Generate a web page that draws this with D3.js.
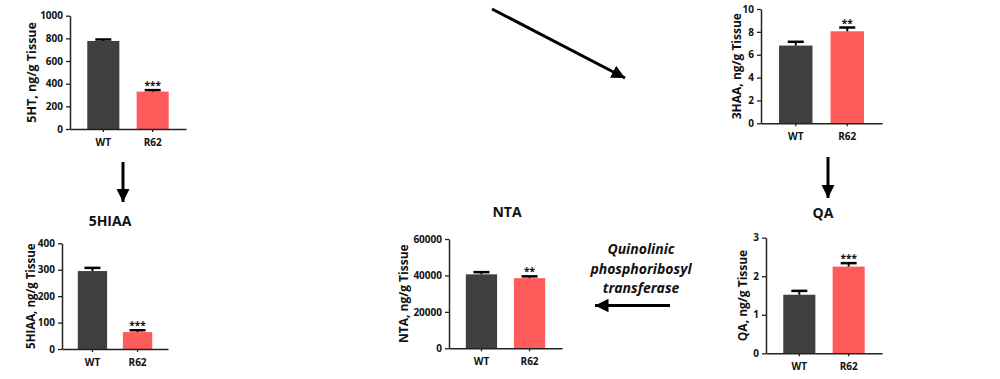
<!DOCTYPE html>
<html>
<head>
<meta charset="utf-8">
<script src="https://cdn.jsdelivr.net/npm/d3@7"></script>
<style>
  body { margin: 0; background: #fff; }
  svg { display: block; }
  text { font-family: "Open Sans", "Liberation Sans", sans-serif; font-weight: bold; fill: #111; }
</style>
</head>
<body>
<div id="chart"></div>
<script>
// groups shared by all panels
let groups = ["WT", "R62"]
let barColors = ["#404040", "#ff5b5b"]

// 5HT
let ht5Means = [777, 330]
let ht5Errors = [13, 13]
let ht5Ticks = [0, 200, 400, 600, 800, 1000]
let ht5Stars = ["", "***"]

// 5HIAA
let hiaaMeans = [295, 64]
let hiaaErrors = [12, 7]
let hiaaTicks = [0, 100, 200, 300, 400]
let hiaaStars = ["", "***"]

// NTA
let ntaMeans = [40600, 38500]
let ntaErrors = [1200, 1000]
let ntaTicks = [0, 20000, 40000, 60000]
let ntaStars = ["", "**"]

// 3HAA
let haa3Means = [6.8, 8.05]
let haa3Errors = [0.33, 0.33]
let haa3Ticks = [0, 2, 4, 6, 8, 10]
let haa3Stars = ["", "**"]

// QA
let qaMeans = [1.52, 2.25]
let qaErrors = [0.1, 0.09]
let qaTicks = [0, 1, 2, 3]
let qaStars = ["", "***"]

let svgWidth = 1000
let svgHeight = 379

let svg = d3.select('#chart')
    .append('svg')
    .attr('width', svgWidth)
    .attr('height', svgHeight)

// draws one small bar panel
function drawPanel(p) {
    let g = svg.append('g')

    let xScale = d3.scaleBand()
        .domain(groups)
        .range([p.x0, p.x1])
        .paddingInner(0.35)
        .paddingOuter(0.35)

    let yScale = d3.scaleLinear()
        .domain([0, d3.max(p.ticks)])
        .range([p.y0, p.y1])

    // bars
    g.selectAll('.bar')
        .data(groups)
        .join('rect')
        .attr('x', d => xScale(d))
        .attr('y', (d, i) => yScale(p.means[i]))
        .attr('width', xScale.bandwidth())
        .attr('height', (d, i) => yScale(0) - yScale(p.means[i]))
        .attr('fill', (d, i) => barColors[i])

    // error bars (upper only)
    groups.forEach((d, i) => {
        let cx = xScale(d) + xScale.bandwidth() / 2
        let top = yScale(p.means[i] + p.errors[i])
        g.append('line')
            .attr('x1', cx).attr('x2', cx)
            .attr('y1', yScale(p.means[i])).attr('y2', top)
            .attr('stroke', '#000').attr('stroke-width', 2)
        g.append('line')
            .attr('x1', cx - 8).attr('x2', cx + 8)
            .attr('y1', top).attr('y2', top)
            .attr('stroke', '#000').attr('stroke-width', 2.5)
        if (p.stars[i]) {
            g.append('text')
                .attr('x', cx)
                .attr('y', top - 1)
                .attr('text-anchor', 'middle')
                .style('font-size', '10px')
                .text(p.stars[i])
        }
    })

    // axes
    let yAxis = d3.axisLeft(yScale)
        .tickValues(p.ticks)
        .tickSize(4)
        .tickSizeOuter(0)
        .tickFormat(d3.format('d'))
    let xAxis = d3.axisBottom(xScale)
        .tickSize(3)
        .tickSizeOuter(0)

    let ya = g.append('g')
        .attr('transform', `translate(${p.x0},0)`)
        .call(yAxis)
    let xa = g.append('g')
        .attr('transform', `translate(0,${p.y0})`)
        .call(xAxis)

    ;[ya, xa].forEach(a => {
        a.select('.domain').attr('stroke', '#222').attr('stroke-width', 1.5)
        a.selectAll('.tick line').attr('stroke', '#222').attr('stroke-width', 1.3)
        a.selectAll('.tick text')
            .style('font-family', '"Open Sans", sans-serif')
            .style('font-weight', 'bold')
            .style('font-size', '10px')
            .attr('fill', '#111')
    })
    xa.selectAll('.tick text').attr('dy', '1.05em')

    // y title
    g.append('text')
        .attr('transform', `translate(${p.titleX},${(p.y0 + p.y1) / 2}) rotate(-90)`)
        .attr('text-anchor', 'middle')
        .attr('dy', '0.35em')
        .style('font-size', p.labelSize || '12px')
        .text(p.label)

    // panel heading
    if (p.heading) {
        g.append('text')
            .attr('x', p.headX)
            .attr('y', p.headY)
            .attr('text-anchor', 'middle')
            .style('font-size', '14px')
            .text(p.heading)
    }
}

drawPanel({means: ht5Means, errors: ht5Errors, ticks: ht5Ticks, stars: ht5Stars,
    x0: 70, x1: 186, y0: 129, y1: 15.7, titleX: 32, label: '5HT, ng/g Tissue', labelSize: '12.5px'})
drawPanel({means: hiaaMeans, errors: hiaaErrors, ticks: hiaaTicks, stars: hiaaStars,
    x0: 62, x1: 168, y0: 349, y1: 243.3, titleX: 31, label: '5HIAA, ng/g Tissue', labelSize: '11.5px',
    heading: '5HIAA', headX: 110, headY: 226})
drawPanel({means: ntaMeans, errors: ntaErrors, ticks: ntaTicks, stars: ntaStars,
    x0: 449, x1: 562, y0: 348.3, y1: 239, titleX: 404, label: 'NTA, ng/g Tissue',
    heading: 'NTA', headX: 507, headY: 217})
drawPanel({means: haa3Means, errors: haa3Errors, ticks: haa3Ticks, stars: haa3Stars,
    x0: 761, x1: 882, y0: 123.3, y1: 9, titleX: 737, label: '3HAA, ng/g Tissue'})
drawPanel({means: qaMeans, errors: qaErrors, ticks: qaTicks, stars: qaStars,
    x0: 766, x1: 882, y0: 353.3, y1: 237.7, titleX: 743, label: 'QA, ng/g Tissue',
    heading: 'QA', headX: 823, headY: 218})

// pathway arrows
svg.append('defs').append('marker')
    .attr('id', 'head')
    .attr('viewBox', '0 0 10 10')
    .attr('refX', 10).attr('refY', 5)
    .attr('markerWidth', 4.5).attr('markerHeight', 4.5)
    .attr('markerUnits', 'strokeWidth')
    .attr('orient', 'auto')
    .append('path')
    .attr('d', 'M0,0 L10,5 L0,10 z')
    .attr('fill', '#000')

function arrow(x1, y1, x2, y2) {
    svg.append('line')
        .attr('x1', x1).attr('y1', y1)
        .attr('x2', x2).attr('y2', y2)
        .attr('stroke', '#000')
        .attr('stroke-width', 3)
        .attr('marker-end', 'url(#head)')
}
arrow(123, 162, 123, 202)
arrow(828, 157, 828, 198)
arrow(492, 9, 625, 78)
arrow(670, 305.5, 595, 305.5)

// enzyme label
let enzyme = svg.append('text')
    .attr('text-anchor', 'middle')
    .style('font-size', '14px')
    .style('font-style', 'italic')
enzyme.selectAll('tspan')
    .data(['Quinolinic', 'phosphoribosyl', 'transferase'])
    .join('tspan')
    .attr('x', 641)
    .attr('y', (d, i) => 254 + i * 19.5)
    .text(d => d)
</script>
</body>
</html>
